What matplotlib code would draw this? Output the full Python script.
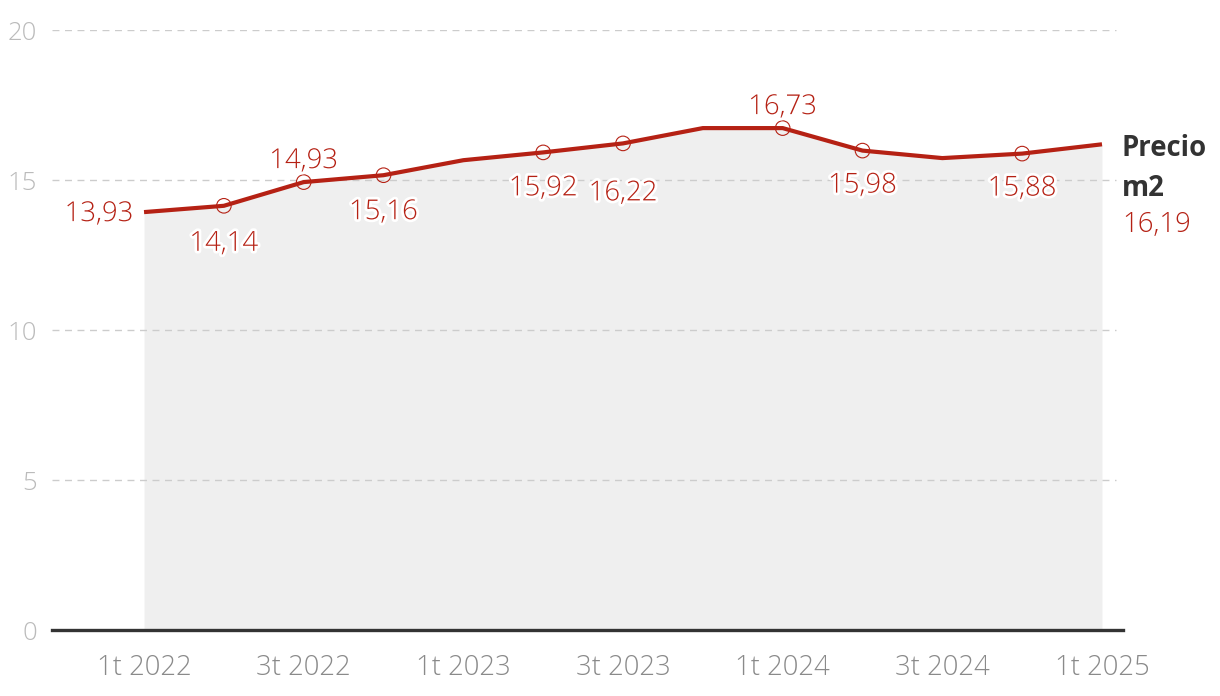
import matplotlib
matplotlib.use("Agg")
import matplotlib.pyplot as plt
import matplotlib.patheffects as pe

# trimestres 1t 2022 .. 1t 2025
trimestres = ['1t 2022', '2t 2022', '3t 2022', '4t 2022', '1t 2023', '2t 2023', '3t 2023',
              '4t 2023', '1t 2024', '2t 2024', '3t 2024', '4t 2024', '1t 2025']
precio = [13.93, 14.14, 14.93, 15.16, 15.66, 15.92, 16.22, 16.73, 16.73, 15.98, 15.73, 15.88, 16.19]
etiquetas = ['13,93', '14,14', '14,93', '15,16', '', '15,92', '16,22', '', '16,73', '15,98', '', '15,88', '']
ticks_y = [0, 5, 10, 15, 20]

ROJO = '#b52114'
FONT = 'Open Sans'
DPI = 100
px = 72.0 / DPI  # pixel -> points
FS = 19.8

fig = plt.figure(figsize=(12.2, 6.96), dpi=DPI)
ax = fig.add_axes([52 / 1220, 66 / 696, (1122 - 52) / 1220, 600 / 696])

x = list(range(len(precio)))
ax.fill_between(x, 0, precio, color='#efefef', lw=0, zorder=1)
ax.plot(x, precio, color=ROJO, lw=3, zorder=3, solid_capstyle='butt')

# circulos en los puntos con etiqueta (menos el primero)
mx = [i for i in x[1:] if etiquetas[i]]
ax.scatter(mx, [precio[i] for i in mx], s=110, facecolors='none', edgecolors=ROJO,
           linewidths=0.8, zorder=4)

# posicion de cada etiqueta (dx, dy en pixeles)
offsets = [(-45, -2), (0, -38), (0, 21), (0, -37), None, (0, -36), (0, -50), None,
           (0, 21), (0, -35), None, (0, -35), None]
halo = [pe.withStroke(linewidth=4, foreground='white')]
for i, txt in enumerate(etiquetas):
    if not txt:
        continue
    dx, dy = offsets[i]
    ax.annotate(txt, (i, precio[i]), xytext=(dx * px, dy * px), textcoords='offset points',
                ha='center', va='center', fontsize=FS, color=ROJO, family=FONT,
                fontweight='light', path_effects=halo, zorder=5)

# etiqueta final
ax.annotate('Precio', (12, precio[-1]), xytext=(20 * px, -4 * px), textcoords='offset points',
            ha='left', va='center', fontsize=FS, color='#333333', family=FONT,
            fontweight='bold', annotation_clip=False)
ax.annotate('m2', (12, precio[-1]), xytext=(20 * px, -44 * px), textcoords='offset points',
            ha='left', va='center', fontsize=FS, color='#333333', family=FONT,
            fontweight='bold', annotation_clip=False)
ax.annotate('16,19', (12, precio[-1]), xytext=(20 * px, -81 * px), textcoords='offset points',
            ha='left', va='center', fontsize=FS, color=ROJO, family=FONT,
            fontweight='light', annotation_clip=False)

ax.set_xlim(-(144 - 52) / 79.8, 12 + (1122 - 1102) / 79.8)
ax.set_ylim(0, 20)
ax.set_yticks(ticks_y)
ax.set_yticklabels([str(t) for t in ticks_y], family=FONT, fontweight='light',
                   fontsize=18.5, color='#bbbbbb')
ax.set_xticks(x[::2])
ax.set_xticklabels(trimestres[::2], family=FONT, fontweight='light', fontsize=FS,
                   color='#8a8a8a')
ax.tick_params(axis='both', length=0)
ax.tick_params(axis='y', pad=11)
ax.tick_params(axis='x', pad=17)

for t in ticks_y[1:]:
    ax.axhline(t, color='#cccccc', lw=1, ls=(0, (5, 4)), zorder=2, xmax=0.994)
ax.axhline(0, color='#333333', lw=2.4, zorder=4, xmax=1.001, clip_on=False)

for s in ax.spines.values():
    s.set_visible(False)

fig.savefig('out.png', dpi=DPI)
